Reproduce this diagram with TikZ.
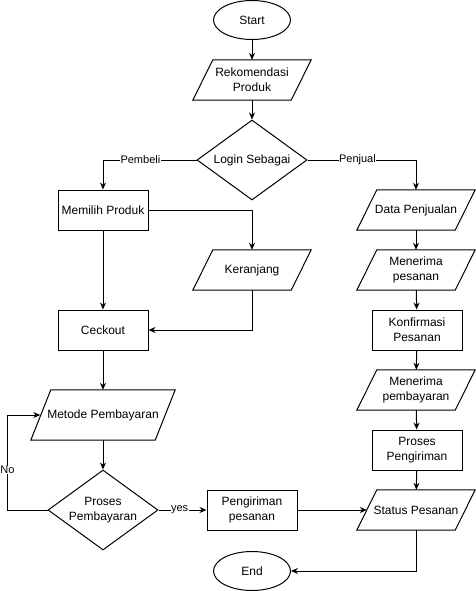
\documentclass[tikz,border=0pt]{standalone}
\usepackage{fontspec}
\setmainfont{Liberation Sans}
\usetikzlibrary{shapes.geometric,arrows.meta}
\begin{document}
\begin{tikzpicture}[x=1pt,y=-1pt,
  every node/.style={font=\fontsize{12}{15}\selectfont, align=center, inner sep=0pt},
  base/.style={draw, line width=1pt},
  terminal/.style={base, ellipse, minimum width=77pt, minimum height=39pt},
  process/.style={base, rectangle, minimum width=90pt, minimum height=40pt},
  io/.style={rectangle, minimum width=118pt, minimum height=40pt,
    append after command={\pgfextra{\draw[line width=1pt, line join=miter] (\tikzlastnode.south west) -- ([xshift=20pt]\tikzlastnode.north west)
      -- (\tikzlastnode.north east) -- ([xshift=-20pt]\tikzlastnode.south east) -- cycle;}}},
  decision/.style={base, diamond, aspect=1.375, minimum width=110pt, minimum height=80pt},
  arrow/.style={line width=1pt, -{Stealth[length=7pt,width=6pt]}},
  lbl/.style={fill=white, font=\fontsize{11}{13}\selectfont, inner sep=0.5pt}
]
\useasboundingbox (0,0) rectangle (475,591);
\node[terminal] (start) at (252,20) {Start};
\node[io] (rek) at (252,80) {Rekomendasi\\Produk};
\node[decision] (login) at (252,160) {Login Sebagai};
\node[process] (memilih) at (103,210) {Memilih Produk};
\node[io] (keranjang) at (252,270) {Keranjang};
\node[process] (ceckout) at (103,330) {Ceckout};
\node[io, minimum width=144pt, minimum height=50pt] (metode) at (103,415) {Metode Pembayaran};
\node[decision] (proses) at (103,510) {Proses\\Pembayaran};
\node[process] (kirim) at (252,510) {Pengiriman\\pesanan};
\node[terminal] (end) at (252,571) {End};
\node[io] (data) at (416,210) {Data Penjualan};
\node[io] (terima) at (416,270) {Menerima\\pesanan};
\node[process] (konf) at (417,330) {Konfirmasi\\Pesanan};
\node[io] (bayar) at (416,390) {Menerima\\pembayaran};
\node[process] (pproses) at (417,450) {Proses\\Pengiriman};
\node[io] (status) at (416,510) {Status Pesanan};

\draw[arrow] (start) -- (rek);
\draw[arrow] (rek) -- (login);
\draw[arrow] (login.west) -| node[lbl, pos=0.3] {Pembeli} (memilih.north);
\draw[arrow] (login.east) -| node[lbl, pos=0.23] {Penjual} (data.north);
\draw[arrow] (memilih.east) -| (keranjang.north);
\draw[arrow] (memilih) -- (ceckout);
\draw[arrow] (keranjang.south) |- (ceckout.east);
\draw[arrow] (ceckout) -- (metode);
\draw[arrow] (metode) -- (proses);
\draw[arrow] (proses.west) -- ++(-40,0) |- node[lbl, pos=0.21] {No} ([xshift=9.5pt]metode.west);
\draw[arrow] (proses.east) -- node[lbl, pos=0.44] {yes} (kirim.west);
\draw[arrow] (kirim.east) -- ([xshift=10pt]status.west);
\draw[arrow] (data) -- (terima);
\draw[arrow] (terima) -- (konf);
\draw[arrow] (konf) -- (bayar);
\draw[arrow] (bayar) -- (pproses);
\draw[arrow] (pproses) -- (status);
\draw[arrow] (status.south) |- (end.east);
\end{tikzpicture}
\end{document}
